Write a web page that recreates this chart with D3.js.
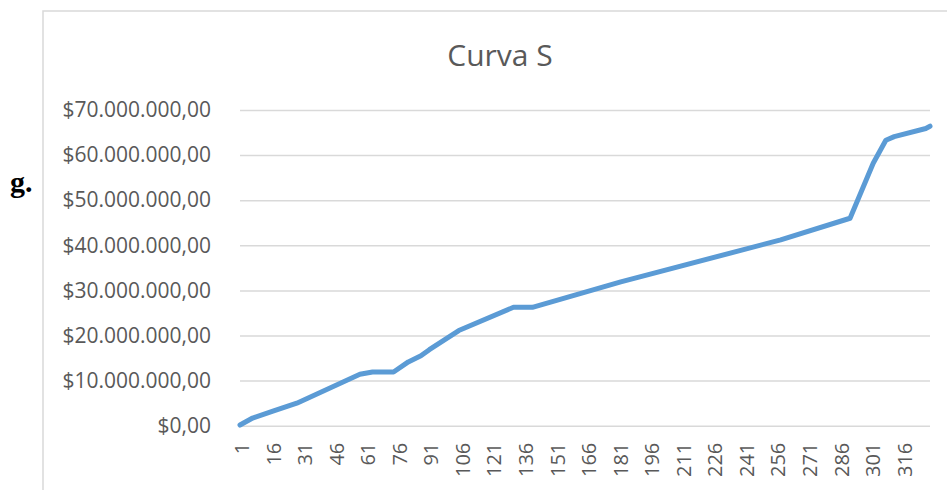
<!DOCTYPE html>
<html>
<head>
<meta charset="utf-8">
<script src="https://d3js.org/d3.v7.min.js"></script>
<style>
  body { margin: 0; background: #fff; }
  svg { display: block; }
</style>
</head>
<body>
<svg width="947" height="490"></svg>
<script>
// days where the curve changes slope, and cumulative value on those days
var days   = [1, 7, 17, 28, 58, 64, 74, 81, 87, 91, 105, 131, 140, 182, 258, 291, 302, 308, 312, 327, 329];
var values = [150000, 1700000, 3300000, 5000000, 11400000, 11900000, 11900000, 14150000, 15500000, 16850000,
              21100000, 26250000, 26250000, 31900000, 41200000, 46000000, 58200000, 63300000, 64100000, 65900000, 66400000];

var xTicks = [1, 16, 31, 46, 61, 76, 91, 106, 121, 136, 151, 166, 181, 196, 211, 226, 241, 256, 271, 286, 301, 316];
var yTicks = [0, 10000000, 20000000, 30000000, 40000000, 50000000, 60000000, 70000000];

var svg = d3.select("svg");

var locale = d3.formatLocale({decimal: ",", thousands: ".", grouping: [3], currency: ["$", ""]});
var fmt = locale.format("$,.2f");

var x = d3.scaleLinear().domain([1, 329]).range([240, 930]);
var y = d3.scaleLinear().domain([0, 70000000]).range([425.7, 110]);

// chart frame
svg.append("rect")
    .attr("x", 43).attr("y", 11)
    .attr("width", 950).attr("height", 520)
    .attr("fill", "none")
    .attr("stroke", "#d9d9d9")
    .attr("stroke-width", 1.5);

svg.append("text")
    .attr("x", 10).attr("y", 192)
    .attr("font-family", "Liberation Serif")
    .attr("font-weight", "bold")
    .attr("font-size", 30)
    .attr("fill", "#000")
    .text("g.");

svg.append("text")
    .attr("x", 500).attr("y", 66)
    .attr("text-anchor", "middle")
    .attr("font-family", "Open Sans")
    .attr("font-size", 30)
    .attr("fill", "#595959")
    .text("Curva S");

// gridlines + y labels
var yAxis = d3.axisLeft(y).tickValues(yTicks).tickSize(-(930 - 240)).tickPadding(29).tickFormat(fmt);
var gy = svg.append("g").attr("transform", "translate(240,0)").call(yAxis);
gy.select(".domain").remove();
gy.selectAll(".tick line").attr("stroke", "#d9d9d9").attr("stroke-width", 1.5);
gy.selectAll(".tick text")
    .attr("font-family", "Open Sans")
    .attr("font-size", 21)
    .attr("fill", "#595959");

// x labels
var xAxis = d3.axisBottom(x).tickValues(xTicks).tickSize(0).tickFormat(d3.format("d"));
var gx = svg.append("g").attr("transform", "translate(0,425.7)").call(xAxis);
gx.select(".domain").remove();
gx.selectAll(".tick text")
    .attr("font-family", "Open Sans")
    .attr("font-size", 20)
    .attr("fill", "#595959")
    .attr("text-anchor", "end")
    .attr("dy", "0.35em")
    .attr("transform", "translate(1.5,17) rotate(-90)")
    .attr("x", 0).attr("y", 0);

var line = d3.line()
    .x(function(d, i) { return x(days[i]); })
    .y(function(d) { return y(d); });

svg.append("path")
    .datum(values)
    .attr("d", line)
    .attr("fill", "none")
    .attr("stroke", "#5b9bd5")
    .attr("stroke-width", 5)
    .attr("stroke-linejoin", "round")
    .attr("stroke-linecap", "round");
</script>
</body>
</html>
